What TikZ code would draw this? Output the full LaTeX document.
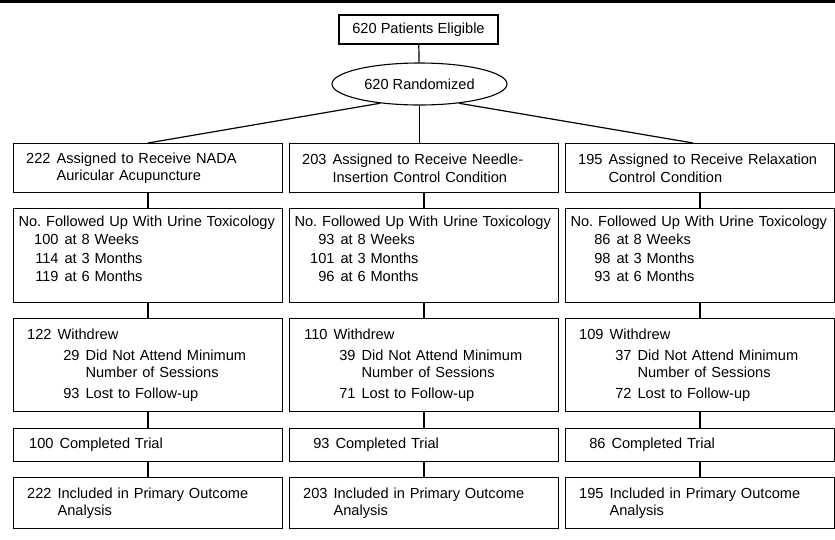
\documentclass[tikz,border=0pt]{standalone}
\usepackage{fontspec}
\setmainfont{Liberation Sans}
\usetikzlibrary{shapes.geometric,calc}

\newcommand{\nitem}[2]{\hspace*{#1}\makebox[25pt][r]{#2}\hspace{6pt}}

\begin{document}
\begin{tikzpicture}[x=1pt, y=-1pt,
    cell/.style={draw, line width=1.1pt, anchor=north west, text width=259pt, inner xsep=5pt, inner ysep=0pt, align=left, font=\fontsize{14.6}{17.5}\selectfont},
    head/.style={draw, line width=1.1pt, minimum width=159pt, minimum height=29pt, inner sep=0pt, font=\fontsize{14.6}{17.5}\selectfont},
    oval/.style={draw, ellipse, line width=1.1pt, minimum width=175pt, minimum height=42pt, inner sep=0pt, font=\fontsize{14.6}{17.5}\selectfont},
    conn/.style={line width=1.2pt}
]
\useasboundingbox (0,0) rectangle (835,539);
\draw[line width=2.6pt] (0,1.3) -- (835,1.3);

\node[head] (elig) at (418.5,29.5) {620 Patients Eligible};
\node[oval] (rand) at (419.5,84) {620 Randomized};

% assigned
\node[cell, minimum height=49pt] (a1) at (13,143) {\nitem{7pt}{222}Assigned to Receive NADA\\ \hspace*{38pt}Auricular Acupuncture};
\node[cell, minimum height=49pt] (a2) at (289,143) {\nitem{7pt}{203}Assigned to Receive Needle-\\ \hspace*{38pt}Insertion Control Condition};
\node[cell, minimum height=49pt] (a3) at (565,143) {\nitem{7pt}{195}Assigned to Receive Relaxation\\ \hspace*{38pt}Control Condition};

% urine toxicology
\node[cell, minimum height=94pt] (f1) at (13,208) {No.\ Followed Up With Urine Toxicology\\[1pt] \nitem{15pt}{100}at 8 Weeks\\[1pt] \nitem{15pt}{114}at 3 Months\\[1pt] \nitem{15pt}{119}at 6 Months\rule[-14pt]{0pt}{14pt}};
\node[cell, minimum height=94pt] (f2) at (289,208) {No.\ Followed Up With Urine Toxicology\\[1pt] \nitem{15pt}{93}at 8 Weeks\\[1pt] \nitem{15pt}{101}at 3 Months\\[1pt] \nitem{15pt}{96}at 6 Months\rule[-14pt]{0pt}{14pt}};
\node[cell, minimum height=94pt] (f3) at (565,208) {No.\ Followed Up With Urine Toxicology\\[1pt] \nitem{15pt}{86}at 8 Weeks\\[1pt] \nitem{15pt}{98}at 3 Months\\[1pt] \nitem{15pt}{93}at 6 Months\rule[-14pt]{0pt}{14pt}};

% withdrew
\node[cell, minimum height=93pt] (w1) at (13,318) {\nitem{8pt}{122}Withdrew\\[3.5pt] \nitem{36pt}{29}Did Not Attend Minimum\\ \hspace*{67pt}Number of Sessions\\[3.5pt] \nitem{36pt}{93}Lost to Follow-up};
\node[cell, minimum height=93pt] (w2) at (289,318) {\nitem{8pt}{110}Withdrew\\[3.5pt] \nitem{36pt}{39}Did Not Attend Minimum\\ \hspace*{67pt}Number of Sessions\\[3.5pt] \nitem{36pt}{71}Lost to Follow-up};
\node[cell, minimum height=93pt] (w3) at (565,318) {\nitem{8pt}{109}Withdrew\\[3.5pt] \nitem{36pt}{37}Did Not Attend Minimum\\ \hspace*{67pt}Number of Sessions\\[3.5pt] \nitem{36pt}{72}Lost to Follow-up};

% completed
\node[cell, minimum height=33pt] (c1) at (13,428) {\nitem{10pt}{100}Completed Trial};
\node[cell, minimum height=33pt] (c2) at (289,428) {\nitem{10pt}{93}Completed Trial};
\node[cell, minimum height=33pt] (c3) at (565,428) {\nitem{10pt}{86}Completed Trial};

% analysis
\node[cell, minimum height=51pt] (i1) at (13,477) {\nitem{8pt}{222}Included in Primary Outcome\\ \hspace*{39pt}Analysis};
\node[cell, minimum height=51pt] (i2) at (289,477) {\nitem{8pt}{203}Included in Primary Outcome\\ \hspace*{39pt}Analysis};
\node[cell, minimum height=51pt] (i3) at (565,477) {\nitem{8pt}{195}Included in Primary Outcome\\ \hspace*{39pt}Analysis};

\draw[conn] (elig) -- (rand);
\draw[conn] (rand.206) -- (a1.north);
\draw[conn] (rand.south) -- (rand.south |- a2.north);
\draw[conn] (rand.-26) -- ($(a3.north)+(-7,0)$);

\draw[conn] (a1) -- (f1);
\draw[conn] (a2) -- (f2);
\draw[conn] (a3) -- (f3);
\draw[conn] (f1) -- (w1);
\draw[conn] (f2) -- (w2);
\draw[conn] (f3) -- (w3);
\draw[conn] (w1) -- (c1);
\draw[conn] (w2) -- (c2);
\draw[conn] (w3) -- (c3);
\draw[conn] (c1) -- (i1);
\draw[conn] (c2) -- (i2);
\draw[conn] (c3) -- (i3);
\end{tikzpicture}
\end{document}
